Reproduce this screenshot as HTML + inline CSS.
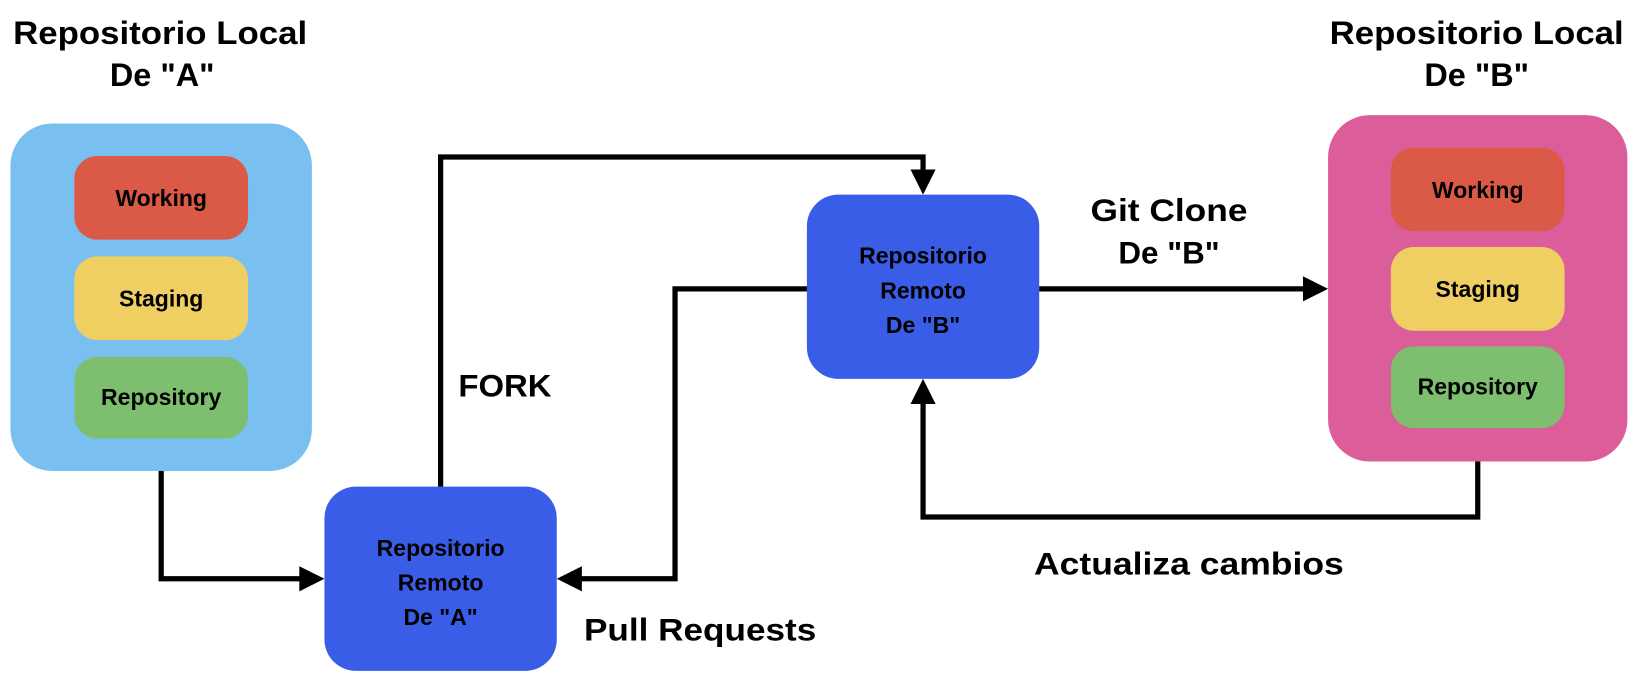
<!DOCTYPE html>
<html><head><meta charset="utf-8"><style>
html,body{margin:0;padding:0;background:#fff;width:1641px;height:687px;overflow:hidden}
svg{display:block}
text{font-family:"Liberation Sans",sans-serif;font-weight:bold;fill:#000}
</style></head><body>
<svg width="1641" height="687" viewBox="0 0 1568 656.4" preserveAspectRatio="none" xmlns="http://www.w3.org/2000/svg">
<g text-anchor="middle" font-size="31">
<text x="153" y="42" textLength="281" lengthAdjust="spacingAndGlyphs">Repositorio Local</text>
<text x="155" y="82">De "A"</text>
<text x="1411" y="42" textLength="281" lengthAdjust="spacingAndGlyphs">Repositorio Local</text>
<text x="1411" y="82">De "B"</text>
</g>
<rect x="10" y="118" width="288" height="332" rx="40" fill="#79C0F0"/>
<rect x="71" y="149" width="166" height="80" rx="22" fill="#DB5A47"/>
<rect x="71" y="245" width="166" height="80" rx="22" fill="#F0CF62"/>
<rect x="71" y="341" width="166" height="78" rx="22" fill="#7DBF6F"/>
<rect x="1269" y="110" width="286" height="331" rx="40" fill="#DB5E9B"/>
<rect x="1329" y="141" width="166" height="80" rx="22" fill="#DB5A47"/>
<rect x="1329" y="236" width="166" height="80" rx="22" fill="#F0CF62"/>
<rect x="1329" y="331" width="166" height="78" rx="22" fill="#7DBF6F"/>
<rect x="310" y="465" width="222" height="176" rx="30" fill="#3A5DE8"/>
<rect x="771" y="186" width="222" height="176" rx="30" fill="#3A5DE8"/>
<g text-anchor="middle" font-size="22">
<text x="154" y="197">Working</text>
<text x="154" y="293">Staging</text>
<text x="154" y="387">Repository</text>
<text x="1412" y="189">Working</text>
<text x="1412" y="284">Staging</text>
<text x="1412" y="377">Repository</text>
<text x="421" y="531">Repositorio</text>
<text x="421" y="564">Remoto</text>
<text x="421" y="597">De "A"</text>
<text x="882" y="252">Repositorio</text>
<text x="882" y="285">Remoto</text>
<text x="882" y="318">De "B"</text>
</g>
<g fill="none" stroke="#000" stroke-width="5">
<polyline points="154,450 154,553 288,553"/>
<polyline points="421,465 421,150 882,150 882,164"/>
<polyline points="771,276 645,276 645,553 554,553"/>
<polyline points="993,276 1247,276"/>
<polyline points="1412,441 1412,494 882,494 882,384"/>
</g>
<g fill="#000">
<polygon points="310,553 286,541 286,565"/>
<polygon points="882,186 870,162 894,162"/>
<polygon points="532,553 556,541 556,565"/>
<polygon points="1269,276 1245,264 1245,288"/>
<polygon points="882,362 870,386 894,386"/>
</g>
<g font-size="30">
<text x="438" y="379" textLength="89" lengthAdjust="spacingAndGlyphs">FORK</text>
<text x="1117" y="211" text-anchor="middle" textLength="150" lengthAdjust="spacingAndGlyphs">Git Clone</text>
<text x="1117" y="252" text-anchor="middle">De "B"</text>
<text x="988" y="549" textLength="296" lengthAdjust="spacingAndGlyphs">Actualiza cambios</text>
<text x="558" y="612" textLength="222" lengthAdjust="spacingAndGlyphs">Pull Requests</text>
</g>
</svg>
</body></html>
